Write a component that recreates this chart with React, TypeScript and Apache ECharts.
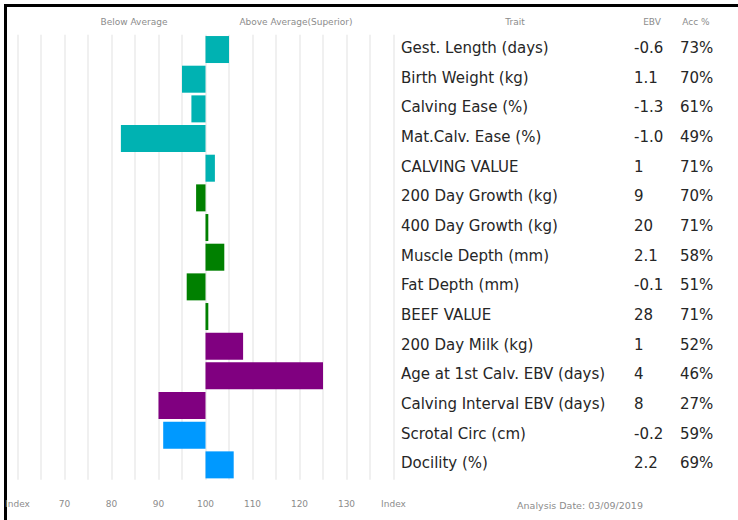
import React, { useEffect, useRef } from "react";
import * as echarts from "echarts";

const traits = [
  "Gest. Length (days)",
  "Birth Weight (kg)",
  "Calving Ease (%)",
  "Mat.Calv. Ease (%)",
  "CALVING VALUE",
  "200 Day Growth (kg)",
  "400 Day Growth (kg)",
  "Muscle Depth (mm)",
  "Fat Depth (mm)",
  "BEEF VALUE",
  "200 Day Milk (kg)",
  "Age at 1st Calv. EBV (days)",
  "Calving Interval EBV (days)",
  "Scrotal Circ (cm)",
  "Docility (%)",
];
const indexValues = [105, 95, 97, 82, 102, 98, 100.6, 104, 96, 100.6, 108, 125, 90, 91, 106];
const ebvValues = ["-0.6", "1.1", "-1.3", "-1.0", "1", "9", "20", "2.1", "-0.1", "28", "1", "4", "8", "-0.2", "2.2"];
const accValues = ["73%", "70%", "61%", "49%", "71%", "70%", "71%", "58%", "51%", "71%", "52%", "46%", "27%", "59%", "69%"];
const groups = [0, 0, 0, 0, 0, 1, 1, 1, 1, 1, 2, 2, 2, 3, 3];
const groupColors = ["#00B2B2", "#008000", "#800080", "#0099FF"];
const axisBase = 100;
const axisMin = 60;
const axisMax = 140;
const headerLabels = ["Below Average", "Above Average(Superior)", "Trait", "EBV", "Acc %"];
const analysisDate = "Analysis Date: 03/09/2019";

const SMALL_FONT = "'DejaVu Sans', sans-serif";
const TABLE_FONT = "'DejaVu Sans', sans-serif";

export default function App() {
  const ref = useRef<HTMLDivElement>(null);
  useEffect(() => {
    if (!ref.current) return;
    const chart = echarts.init(ref.current, undefined, { renderer: "svg" });
    const cell = { fontSize: 15, color: "#262626", fontFamily: TABLE_FONT, padding: [0, 0, 3, 0] };
    chart.setOption({
      animation: false,
      backgroundColor: "#ffffff",
      grid: { left: 17.5, width: 376, top: 34.7, height: 445 },
      xAxis: {
        type: "value",
        min: axisMin - axisBase,
        max: axisMax - axisBase,
        interval: 5,
        axisLine: { show: false },
        axisTick: { show: false },
        splitLine: { show: true, lineStyle: { color: "#ebebeb", width: 1.5 } },
        axisLabel: {
          fontSize: 9,
          color: "#8c8c8c",
          fontFamily: SMALL_FONT,
          margin: 20,
          showMinLabel: true,
          showMaxLabel: true,
          formatter: (v: number) => {
            const idx = Math.round(v + axisBase);
            if (idx === axisMin || idx === axisMax) return "Index";
            return idx % 10 === 0 ? String(idx) : "";
          },
        },
      },
      yAxis: {
        type: "category",
        inverse: true,
        position: "right",
        data: traits,
        axisLine: { show: false },
        axisTick: { show: false },
        splitLine: { show: false },
        axisLabel: {
          margin: 7.5,
          align: "left",
          formatter: (v: string, i: number) =>
            `{t|${traits[i]}}{e|${ebvValues[i]}}{a|${accValues[i]}}`,
          rich: {
            t: { ...cell, width: 233 },
            e: { ...cell, width: 46 },
            a: { ...cell, width: 45 },
          },
        },
      },
      series: [
        {
          type: "bar",
          barWidth: 27,
          data: indexValues.map((v, i) => ({
            value: v - axisBase,
            itemStyle: { color: groupColors[groups[i]] },
          })),
        },
      ],
      graphic: [
        { type: "line", shape: { x1: 4, y1: 5.5, x2: 738, y2: 5.5 }, style: { stroke: "#000", lineWidth: 3 } },
        { type: "line", shape: { x1: 5.5, y1: 4, x2: 5.5, y2: 520 }, style: { stroke: "#000", lineWidth: 3 } },
        ...[134, 296, 515, 652, 696].map((x, i) => ({
          type: "text",
          x,
          y: 22,
          style: { text: headerLabels[i], fill: "#8c8c8c", align: "center", verticalAlign: "middle", font: `9px ${SMALL_FONT}` },
        })),
        {
          type: "text",
          x: 580,
          y: 505,
          style: { text: analysisDate, fill: "#8c8c8c", align: "center", verticalAlign: "middle", font: `9.5px ${SMALL_FONT}` },
        },
      ],
    });
    return () => chart.dispose();
  }, []);
  return (
    <div
      ref={ref}
      style={{ position: "fixed", left: 0, top: 0, width: 738, height: 520, background: "#fff" }}
    />
  );
}
